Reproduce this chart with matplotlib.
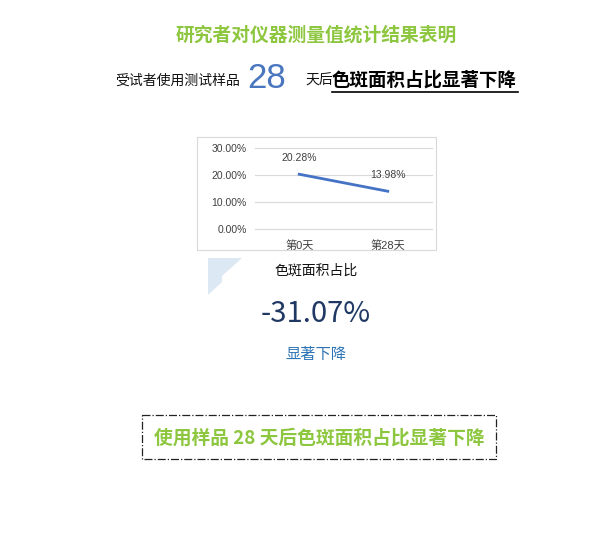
import matplotlib
matplotlib.use("Agg")
import matplotlib.pyplot as plt
from matplotlib.patches import Rectangle, Polygon

plt.rcParams['font.family'] = ['Noto Sans CJK SC', 'DejaVu Sans']

# data
days = ['第0天', '第28天']
spot_ratio = [0.2028, 0.1398]
yticks = [0.0, 0.1, 0.2, 0.3]
change = '-31.07%'

W, H = 591, 550
fig = plt.figure(figsize=(W / 100, H / 100), dpi=100)

# background axes in pixel coords for all the text
bg = fig.add_axes([0, 0, 1, 1])
bg.set_xlim(0, W)
bg.set_ylim(H, 0)
bg.axis('off')

green = '#8DC63F'
bg.text(316, 35, '研究者对仪器测量值统计结果表明', ha='center', va='center',
        fontsize=13.5, fontweight='bold', color=green)

# second line
bg.text(115, 81, '受试者使用测试样品', ha='left', va='center', fontsize=10, color='#111111')
bg.text(267, 78, '28', ha='center', va='center', fontsize=25, color='#4A76C0',
        family='Liberation Sans')
bg.text(305, 81, '天后', ha='left', va='center', fontsize=10, color='#111111')
bg.text(332, 80, '色斑面积占比显著下降', ha='left', va='center', fontsize=13.3,
        fontweight='bold', color='#000000')
bg.plot([332, 518], [91.5, 91.5], color='black', lw=1.2)

# chart frame
bg.add_patch(Rectangle((197, 137), 239, 113, fill=False, ec='#D9D9D9', lw=0.8))

# corner decoration
bg.add_patch(Polygon([(208, 258), (242, 258), (222, 276), (222, 282), (208, 295)],
                     closed=True, fc='#DDE8F5', ec='none'))

bg.text(316, 271, '色斑面积占比', ha='center', va='center', fontsize=10, color='#111111')
bg.text(316, 314, change, ha='center', va='center', fontsize=21, color='#1F3864')
bg.text(316, 354, '显著下降', ha='center', va='center', fontsize=11, color='#2E75B6')

# dashed box at bottom
bg.add_patch(Rectangle((142, 415), 354, 44, fill=False, ec='#222222', lw=0.9,
                       linestyle='-.'))
bg.text(319, 438, '使用样品 28 天后色斑面积占比显著下降', ha='center', va='center',
        fontsize=13.5, fontweight='bold', color=green)

# line chart
ax = fig.add_axes([255 / W, 1 - 229 / H, 177 / W, 81 / H])
x = list(range(len(days)))
ax.plot(x, spot_ratio, color='#4472C4', lw=2)
ax.set_xlim(-0.5, len(days) - 0.5)
ax.set_ylim(0, 0.3)
ax.set_yticks(yticks)
ax.set_yticklabels([f'{v * 100:.2f}%' for v in yticks])
ax.set_xticks(x)
ax.set_xticklabels(days)
ax.grid(axis='y', color='#D9D9D9', lw=0.8)
for g in ax.get_ygridlines():
    g.set_clip_on(False)
ax.set_axisbelow(True)
for s in ax.spines.values():
    s.set_visible(False)
ax.tick_params(length=0, labelsize=7.5, labelcolor='#404040', pad=6)
ax.tick_params(axis='x', pad=8, labelsize=8)
for lab in ax.get_yticklabels() + ax.get_xticklabels():
    lab.set_family(['Liberation Sans', 'Noto Sans CJK SC'])
for xi, v in zip(x, spot_ratio):
    ax.annotate(f'{v * 100:.2f}%', (xi, v), xytext=(0, 12), textcoords='offset points',
                ha='center', va='center', fontsize=7.5, color='#404040',
                family=['Liberation Sans', 'Noto Sans CJK SC'])

fig.savefig('out.png', dpi=100)
